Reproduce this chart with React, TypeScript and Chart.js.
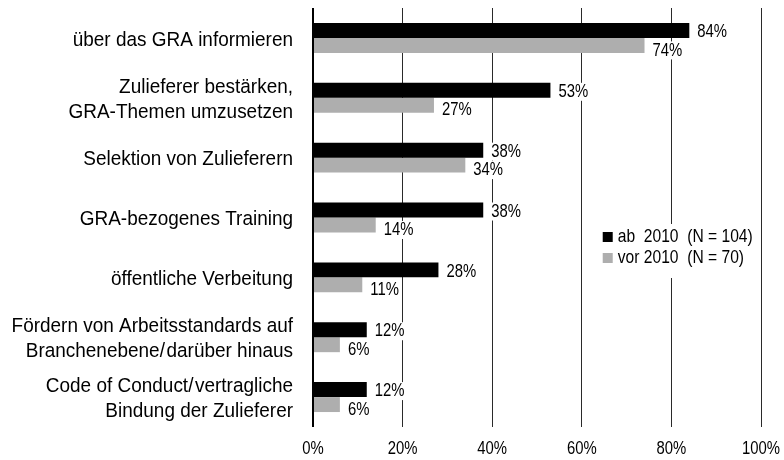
import React, { useEffect, useRef } from "react";
import { Chart, registerables } from "chart.js";

Chart.register(...registerables);

const categories: (string | string[])[] = [
  "über das GRA informieren",
  ["Zulieferer bestärken,", "GRA-Themen umzusetzen"],
  "Selektion von Zulieferern",
  "GRA-bezogenes Training",
  "öffentliche Verbeitung",
  ["Fördern von Arbeitsstandards auf", "Branchenebene/\u200Adarüber hinaus"],
  ["Code of Conduct/\u200Avertragliche", "Bindung der Zulieferer"],
];

const seriesAb = [84, 53, 38, 38, 28, 12, 12];
const seriesVor = [74, 27, 34, 14, 11, 6, 6];
const seriesLabels = ["ab  2010  (N = 104)", "vor 2010  (N = 70)"];
const seriesColors = ["#000000", "#aeaeae"];
const xTicks = [0, 20, 40, 60, 80, 100];

const FONT = '"Liberation Sans", Arial, sans-serif';

// draw horizontally condensed text (font is scaled along x only)
function drawText(
  ctx: CanvasRenderingContext2D,
  text: string,
  x: number,
  y: number,
  size: number,
  sx: number,
  align: "left" | "right" | "center"
) {
  ctx.save();
  ctx.font = `${size}px ${FONT}`;
  ctx.textBaseline = "middle";
  ctx.textAlign = align;
  ctx.translate(x, y);
  ctx.scale(sx, 1);
  ctx.fillText(text, 0, 0);
  ctx.restore();
}

function textWidth(ctx: CanvasRenderingContext2D, text: string, size: number, sx: number) {
  ctx.save();
  ctx.font = `${size}px ${FONT}`;
  const w = ctx.measureText(text).width * sx;
  ctx.restore();
  return w;
}

const NARROW_SX = 0.8;
const SMALL = 18.6;

const overlayPlugin = {
  id: "overlay",
  afterDraw(chart: any) {
    const ctx = chart.ctx as CanvasRenderingContext2D;
    const area = chart.chartArea;
    const xs = chart.scales.x;
    const ys = chart.scales.y;
    ctx.save();

    // category labels
    ctx.fillStyle = "#000000";
    categories.forEach((cat, i) => {
      const lines = Array.isArray(cat) ? cat : [cat];
      const cy = ys.getPixelForValue(i) + 2;
      const lh = 25;
      lines.forEach((ln, li) => {
        const y = cy + (li - (lines.length - 1) / 2) * lh;
        drawText(ctx, ln, area.left - 20, y, 20.5, 0.925, "right");
      });
    });

    // x tick labels
    xTicks.forEach((v) => {
      const x = xs.getPixelForValue(v);
      drawText(ctx, `${v}%`, x, area.bottom + 22, SMALL, NARROW_SX, "center");
    });

    // data labels
    const offsets = [1.5, 5];
    chart.data.datasets.forEach((ds: any, di: number) => {
      const meta = chart.getDatasetMeta(di);
      meta.data.forEach((bar: any, i: number) => {
        const text = `${ds.data[i]}%`;
        const w = textWidth(ctx, text, SMALL, NARROW_SX);
        const x = bar.x + 8;
        const y = bar.y + offsets[di];
        ctx.fillStyle = "#ffffff";
        ctx.fillRect(x - 2, y - 9, w + 4, 18);
        ctx.fillStyle = "#000000";
        drawText(ctx, text, x, y, SMALL, NARROW_SX, "left");
      });
    });

    // legend
    const lx = area.left + (area.right - area.left) * 0.64;
    const ly = area.top + 216;
    ctx.fillStyle = "#ffffff";
    ctx.fillRect(lx, ly, 157, 54);
    chart.data.datasets.forEach((ds: any, di: number) => {
      const cy = ly + 13 + di * 21;
      ctx.fillStyle = seriesColors[di];
      ctx.fillRect(lx + 3, cy - 5, 10, 10);
      ctx.fillStyle = "#000000";
      drawText(ctx, ds.label, lx + 18, cy, SMALL, 0.84, "left");
    });
    ctx.restore();
  },
};

export default function App() {
  const canvasRef = useRef<HTMLCanvasElement | null>(null);

  useEffect(() => {
    document.body.style.margin = "0";
    const canvas = canvasRef.current;
    if (!canvas) return;
    const chart = new Chart(canvas, {
      type: "bar",
      data: {
        labels: categories,
        datasets: [
          {
            label: seriesLabels[0],
            data: seriesAb,
            backgroundColor: seriesColors[0],
            borderWidth: 0,
            categoryPercentage: 0.5,
            barPercentage: 1.0,
          },
          {
            label: seriesLabels[1],
            data: seriesVor,
            backgroundColor: seriesColors[1],
            borderWidth: 0,
            categoryPercentage: 0.5,
            barPercentage: 1.0,
          },
        ],
      },
      options: {
        indexAxis: "y",
        animation: false,
        responsive: true,
        maintainAspectRatio: false,
        layout: { padding: { left: 0, right: 23, top: 8, bottom: 0 } },
        plugins: {
          legend: { display: false },
          tooltip: { enabled: false },
        },
        scales: {
          x: {
            min: 0,
            max: 100,
            z: 1,
            afterBuildTicks: (scale: any) => {
              scale.ticks = xTicks.map((v) => ({ value: v }));
            },
            afterFit: (scale: any) => {
              scale.height = 33;
              scale.paddingLeft = 0;
              scale.paddingRight = 0;
            },
            border: { display: false },
            grid: {
              drawTicks: false,
              color: (c: any) => (c.tick && c.tick.value === 0 ? "#000000" : "#2a2a2a"),
              lineWidth: (c: any) => (c.tick && c.tick.value === 0 ? 2 : 1),
            },
            ticks: { display: false },
          },
          y: {
            afterFit: (scale: any) => {
              scale.width = 313;
              scale.paddingTop = 0;
              scale.paddingBottom = 0;
            },
            border: { display: false },
            grid: { display: false, drawTicks: false },
            ticks: { display: false },
          },
        },
      },
      plugins: [overlayPlugin],
    });
    return () => chart.destroy();
  }, []);

  return (
    <div style={{ position: "absolute", left: 0, top: 0, width: 784, height: 460 }}>
      <canvas ref={canvasRef} />
    </div>
  );
}
